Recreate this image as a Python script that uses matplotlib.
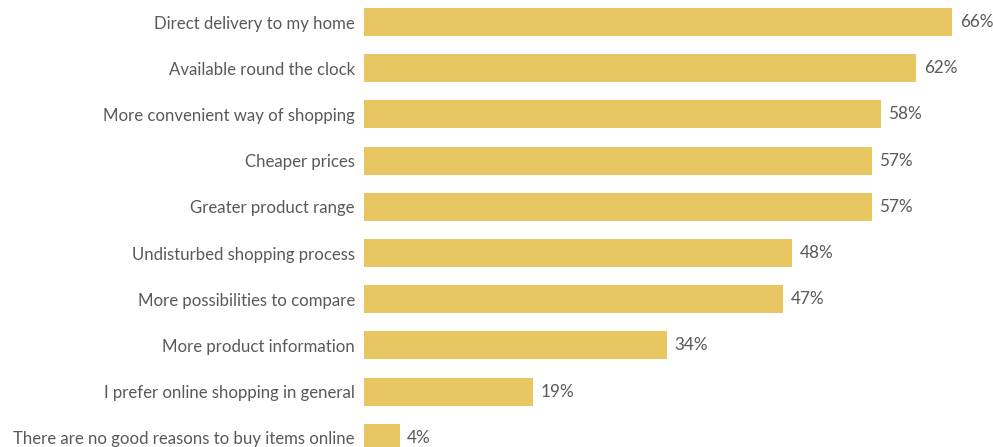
import matplotlib.pyplot as plt

# reasons for shopping online, share of respondents (%)
reasons = [
    "Direct delivery to my home",
    "Available round the clock",
    "More convenient way of shopping",
    "Cheaper prices",
    "Greater product range",
    "Undisturbed shopping process",
    "More possibilities to compare",
    "More product information",
    "I prefer online shopping in general",
    "There are no good reasons to buy items online",
]
shares = [66, 62, 58, 57, 57, 48, 47, 34, 19, 4]

bar_color = "#E8C762"
text_color = "#595959"

plt.rcParams["font.family"] = ["Lato", "DejaVu Sans"]

fig = plt.figure(figsize=(9.93, 4.47), dpi=100)
ax = fig.add_axes([364 / 993, 0, 1 - 364 / 993, 1])

ypos = list(range(len(reasons)))
bars = ax.barh(ypos, shares, height=0.61, color=bar_color)

ax.set_xlim(0, (993 - 364) / 8.91)
ax.set_ylim((447 - 22) / 46.2, -22 / 46.2)

ax.set_yticks(ypos)
ax.set_yticklabels(reasons, fontsize=12.1, color=text_color)
ax.tick_params(axis="y", length=0, pad=6.5)
ax.set_xticks([])

ax.bar_label(bars, labels=[f"{v}%" for v in shares], padding=5.5,
             fontsize=12.3, color=text_color)

for s in ax.spines.values():
    s.set_visible(False)

fig.savefig("out.png", dpi=100)
